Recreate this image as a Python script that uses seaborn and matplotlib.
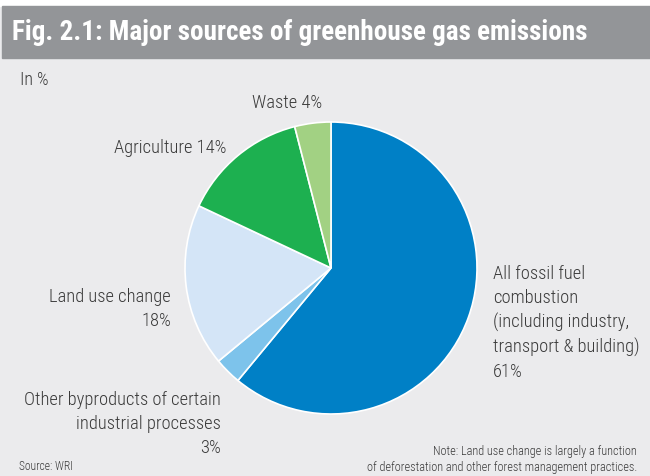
import matplotlib
matplotlib.use("Agg")
import matplotlib.pyplot as plt
import seaborn as sns
from matplotlib.patches import Rectangle
from matplotlib import font_manager

categories = ["All fossil fuel combustion", "Other byproducts of certain industrial processes",
              "Land use change", "Agriculture", "Waste"]
values = [61, 3, 18, 14, 4]
colors = ["#0080C6", "#7DC3EB", "#D4E5F7", "#1DB050", "#A2D183"]

sns.set_theme(style="white")
names = {f.name for f in font_manager.fontManager.ttflist}
base = "Liberation Sans"
for cand in ["Roboto Condensed", "Liberation Sans Narrow", "Open Sans Condensed", "Roboto"]:
    if cand in names:
        base = cand
        break
plt.rcParams["font.family"] = [base, "DejaVu Sans"]

W, H = 650, 476
fig = plt.figure(figsize=(6.5, 4.76), dpi=100)
fig.patch.set_facecolor("#EBEBED")

def fx(x):
    return x / W

def fy(y):
    return 1 - y / H

tc = "#3A3A3A"
fw = "light"

# title bar
fig.add_artist(Rectangle((0, fy(6)), 1, 6 / H, transform=fig.transFigure, color="white", zorder=0))
fig.add_artist(Rectangle((fx(2), fy(58)), 1, 52 / H, transform=fig.transFigure, color="#939598", zorder=0))
fig.text(fx(12), fy(33), "Fig. 2.1: Major sources of greenhouse gas emissions", color="white",
         fontsize=19.5, fontweight="bold", va="center", ha="left")
fig.text(fx(20), fy(80), "In %", fontsize=13, color=tc, fontweight=fw, va="center", ha="left")

cx, cy, r = 331, 268, 146
ax = fig.add_axes([fx(cx - r), fy(cy + r), 2 * r / W, 2 * r / H])
ax.pie(values, colors=colors, startangle=90, counterclock=False,
       wedgeprops=dict(edgecolor="white", linewidth=1.2))
ax.set_xlim(-1, 1)
ax.set_ylim(-1, 1)
ax.set_aspect("equal")
ax.axis("off")

fs = 13.3
ls = 1.4
kw = dict(fontsize=fs, color=tc, fontweight=fw)
fig.text(fx(287), fy(103), "Waste 4%", ha="center", va="center", **kw)
fig.text(fx(226), fy(148), "Agriculture 14%", ha="right", va="center", **kw)
fig.text(fx(171), fy(309), "Land use change\n18%", ha="right", va="center",
         multialignment="right", linespacing=ls, **kw)
fig.text(fx(493), fy(323), "All fossil fuel\ncombustion\n(including industry,\ntransport & building)\n61%",
         ha="left", va="center", multialignment="left", linespacing=ls, **kw)
fig.text(fx(221), fy(424), "Other byproducts of certain\nindustrial processes\n3%",
         ha="right", va="center", multialignment="right", linespacing=ls, **kw)
fig.text(fx(19), fy(466), "Source: WRI", fontsize=8.3, color=tc, fontweight=fw, ha="left", va="center")
fig.text(fx(637), fy(459), "Note: Land use change is largely a function\nof deforestation and other forest management practices.",
         fontsize=8.8, color=tc, fontweight=fw, ha="right", va="center", multialignment="right", linespacing=1.3)

fig.savefig("out.png", dpi=100, facecolor=fig.get_facecolor())
